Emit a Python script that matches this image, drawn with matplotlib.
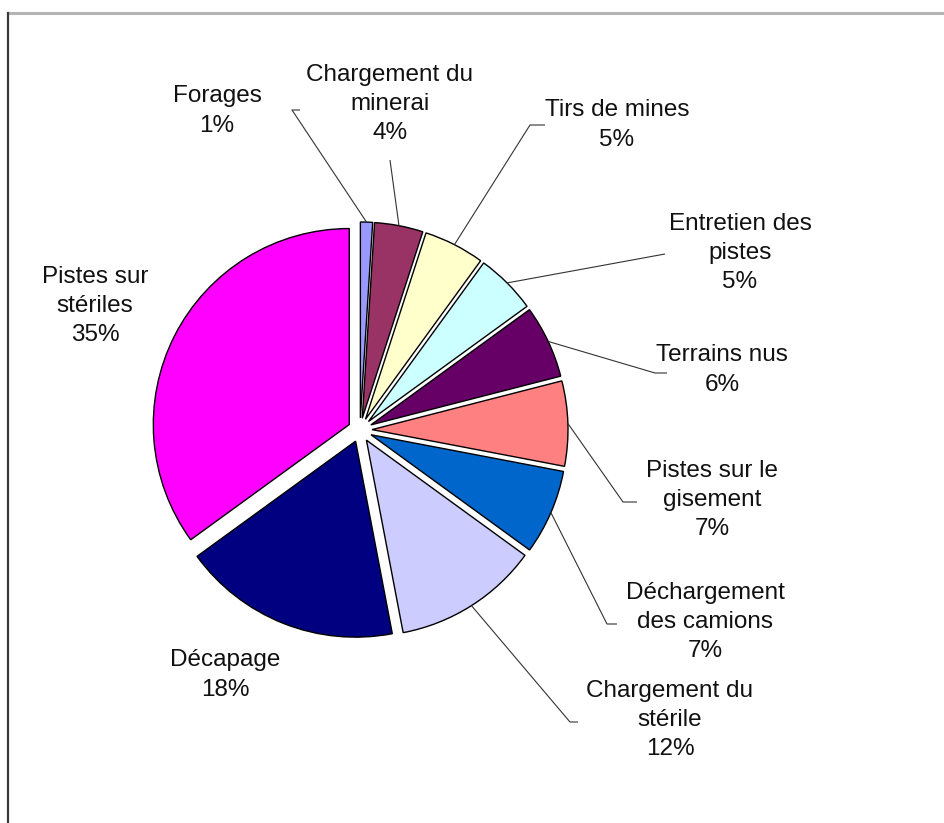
import matplotlib
matplotlib.use("Agg")
import matplotlib.pyplot as plt
import numpy as np

W, H = 945, 823

categories = [
    "Forages",
    "Chargement du\nminerai",
    "Tirs de mines",
    "Entretien des\npistes",
    "Terrains nus",
    "Pistes sur le\ngisement",
    "Déchargement\ndes camions",
    "Chargement du\nstérile",
    "Décapage",
    "Pistes sur\nstériles",
]
shares = [1, 4, 5, 5, 6, 7, 7, 12, 18, 35]
colors = [
    "#9999FF", "#993366", "#FFFFCC", "#CCFFFF", "#660066",
    "#FF8080", "#0066CC", "#CCCCFF", "#000080", "#FF00FF",
]

# label block centres in pixel coords (y measured from the top)
label_pos = [
    (217, 111), (390, 104), (617, 125), (740, 253), (722, 370),
    (712, 500), (705, 622), (670, 720), (225, 675), (95, 306),
]
# leader lines: (elbow, end near label) in pixel coords, None = no leader
leaders = [
    ((292, 110), (300, 110)),
    ((390, 160), (390, 160)),
    ((530, 125), (545, 125)),
    ((665, 254), (665, 254)),
    ((655, 373), (667, 373)),
    ((623, 502), (637, 502)),
    ((607, 624), (617, 624)),
    ((570, 722), (578, 722)),
    None,
    None,
]

CX, CY, R = 360, 430, 196
EXPLODE = 12  # pie() offsets wedges in data units, i.e. pixels here


def px(x, y):
    """Pixel position measured from the top-left to axes data coords."""
    return x, H - y


plt.rcParams["font.family"] = ["Liberation Sans", "DejaVu Sans"]

fig = plt.figure(figsize=(W / 100, H / 100), dpi=100)
fig.patch.set_facecolor("white")
ax = fig.add_axes([0, 0, 1, 1])

wedges, _ = ax.pie(
    shares,
    colors=colors,
    explode=[EXPLODE] * len(shares),
    startangle=90,
    counterclock=False,
    radius=R,
    center=px(CX, CY),
    wedgeprops=dict(edgecolor="black", linewidth=1.0),
)

ax.set_xlim(0, W)
ax.set_ylim(0, H)
ax.set_aspect("equal")
ax.axis("off")

total = float(sum(shares))
for name, value, pos, lead, w in zip(categories, shares, label_pos, leaders, wedges):
    pct = value / total * 100
    ax.text(*px(*pos), f"{name}\n{pct:.0f}%", ha="center", va="center",
            multialignment="center", fontsize=17.5, linespacing=1.42,
            color="#111111")
    if lead is None:
        continue
    mid = np.deg2rad((w.theta1 + w.theta2) / 2)
    cx, cy = w.center
    tip = (cx + R * np.cos(mid), cy + R * np.sin(mid))
    (ex, ey), (lx, ly) = lead
    ax.plot([tip[0], ex, lx], [tip[1], H - ey, H - ly],
            color="#333333", linewidth=0.8, solid_capstyle="butt")

# chart frame: grey rule at the top, dark rule down the left side
ax.plot([8, W], [H - 13, H - 13], color="#b4b4b4", linewidth=2.2)
ax.plot([8, 8], [H - 13, 0], color="#3a3a3a", linewidth=1.6)

fig.savefig("out.png", dpi=100, facecolor="white")
